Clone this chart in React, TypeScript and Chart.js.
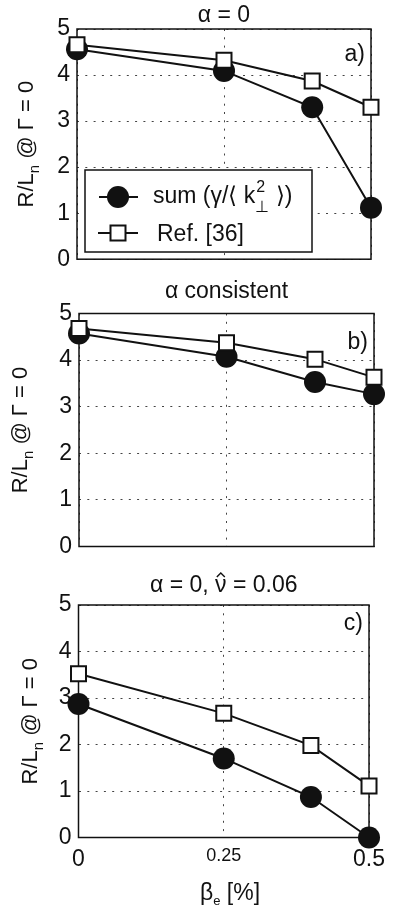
import React, { useEffect, useRef } from "react";
import { Chart, registerables } from "chart.js";
Chart.register(...registerables);

// ---- data ----
const betaValues = [0, 0.25, 0.4, 0.5];
const xTickValues = [0, 0.25, 0.5];
const yTickValues = [0, 1, 2, 3, 4, 5];
const sumA = [4.56, 4.09, 3.3, 1.12];
const refA = [4.66, 4.32, 3.87, 3.3];
const sumB = [4.57, 4.07, 3.53, 3.27];
const refB = [4.68, 4.37, 4.02, 3.63];
const sumC = [2.87, 1.7, 0.87, 0.0];
const refC = [3.52, 2.67, 1.98, 1.11];
// titles split in parts: [before, hatted char, after]
const panelTitles: string[][] = [["α = 0"], ["α consistent"], ["α = 0, ", "ν", " = 0.06"]];
const panelTags = ["a)", "b)", "c)"];
const legendLabels = ["sum", "Ref. [36]"];

const FONT = "'Liberation Sans', Arial, Helvetica, sans-serif";
const INK = "#111";
const W = 393;
const FS = 23;

type Cfg = {
  top: number;
  height: number;
  left: number;
  right: number;
  areaTop: number;
  areaBottom: number;
  sum: number[];
  ref: number[];
  title: string[];
  titleBaseline: number;
  tag: string;
  tagBaseline: number;
  yTitleX: number;
  legend: boolean;
  xTicks: boolean;
};

const panels: Cfg[] = [
  { top: 0, height: 280, left: 77, right: 371, areaTop: 29, areaBottom: 262, sum: sumA, ref: refA, title: panelTitles[0], titleBaseline: 22, tag: panelTags[0], tagBaseline: 61, yTitleX: 33, legend: true, xTicks: false },
  { top: 280, height: 290, left: 79, right: 374, areaTop: 33.5, areaBottom: 266.5, sum: sumB, ref: refB, title: panelTitles[1], titleBaseline: 18, tag: panelTags[1], tagBaseline: 69, yTitleX: 27, legend: false, xTicks: false },
  { top: 570, height: 343, left: 78.5, right: 375, areaTop: 35, areaBottom: 267.5, sum: sumC, ref: refC, title: panelTitles[2], titleBaseline: 22, tag: panelTags[2], tagBaseline: 60, yTitleX: 37, legend: false, xTicks: true },
];

type Run = { t: string; size: number; dy: number };

function drawRuns(ctx: CanvasRenderingContext2D, x: number, y: number, runs: Run[]) {
  let cx = x;
  for (const r of runs) {
    ctx.font = `${r.size}px ${FONT}`;
    ctx.fillText(r.t, cx, y + r.dy);
    cx += ctx.measureText(r.t).width;
  }
  return cx;
}
function runsWidth(ctx: CanvasRenderingContext2D, runs: Run[]) {
  let w = 0;
  for (const r of runs) {
    ctx.font = `${r.size}px ${FONT}`;
    w += ctx.measureText(r.t).width;
  }
  return w;
}

function makeDecor(cfg: Cfg) {
  return {
    id: "decor",
    beforeDatasetsDraw(chart: any) {
      const { ctx, chartArea: a } = chart;
      ctx.save();
      ctx.strokeStyle = INK;
      ctx.lineWidth = 1.5;
      ctx.strokeRect(a.left, a.top, a.right - a.left, a.bottom - a.top);
      ctx.restore();
    },
    afterDraw(chart: any) {
      const { ctx, chartArea: a } = chart;
      ctx.save();
      ctx.fillStyle = INK;
      ctx.textBaseline = "alphabetic";
      ctx.textAlign = "left";
      // title
      const tRuns: Run[] = cfg.title.map((t) => ({ t, size: FS, dy: 0 }));
      const tw0 = runsWidth(ctx, tRuns);
      let tx = (a.left + a.right) / 2 - tw0 / 2;
      ctx.font = `${FS}px ${FONT}`;
      for (let i = 0; i < cfg.title.length; i++) {
        const t = cfg.title[i];
        ctx.fillText(t, tx, cfg.titleBaseline);
        const w = ctx.measureText(t).width;
        if (i === 1) {
          // hat accent over the character
          ctx.save();
          ctx.strokeStyle = INK;
          ctx.lineWidth = 1.4;
          const cx = tx + w / 2;
          const hy = cfg.titleBaseline - 19;
          ctx.beginPath();
          ctx.moveTo(cx - 4, hy + 4);
          ctx.lineTo(cx, hy);
          ctx.lineTo(cx + 4, hy + 4);
          ctx.stroke();
          ctx.restore();
        }
        tx += w;
      }
      // tag
      ctx.textAlign = "right";
      ctx.fillText(cfg.tag, a.right - 6, cfg.tagBaseline);
      // y title
      ctx.textAlign = "left";
      const yRuns: Run[] = [
        { t: "R/L", size: 22, dy: 0 },
        { t: "n", size: 15, dy: 6 },
        { t: " @ Γ = 0", size: 22, dy: 0 },
      ];
      const tw = runsWidth(ctx, yRuns);
      ctx.save();
      ctx.translate(cfg.yTitleX, (a.top + a.bottom) / 2);
      ctx.rotate(-Math.PI / 2);
      drawRuns(ctx, -tw / 2, 0, yRuns);
      ctx.restore();

      if (cfg.legend) {
        const lx = 85, ly = 170, lw = 227, lh = 82;
        ctx.fillStyle = "#fff";
        ctx.fillRect(lx, ly, lw, lh);
        ctx.strokeStyle = INK;
        ctx.lineWidth = 1.5;
        ctx.strokeRect(lx, ly, lw, lh);
        // row 1
        ctx.lineWidth = 2;
        ctx.beginPath();
        ctx.moveTo(99, 197);
        ctx.lineTo(138, 197);
        ctx.stroke();
        ctx.fillStyle = INK;
        ctx.beginPath();
        ctx.arc(118, 197, 11, 0, Math.PI * 2);
        ctx.fill();
        // row 2
        ctx.beginPath();
        ctx.moveTo(98, 233);
        ctx.lineTo(138, 233);
        ctx.stroke();
        ctx.fillStyle = "#fff";
        ctx.fillRect(110.5, 225.5, 15, 15);
        ctx.strokeRect(110.5, 225.5, 15, 15);
        ctx.fillStyle = INK;
        // text row 1
        let x = drawRuns(ctx, 153, 203, [{ t: legendLabels[0] + " (γ/⟨ k", size: FS, dy: 0 }]);
        ctx.font = `16px ${FONT}`;
        ctx.fillText("2", x + 1, 203 - 11);
        const w2 = ctx.measureText("2").width;
        ctx.fillText("⊥", x, 203 + 9);
        const w3 = ctx.measureText("⊥").width;
        x += Math.max(w2 + 1, w3);
        drawRuns(ctx, x, 203, [{ t: " ⟩)", size: FS, dy: 0 }]);
        // text row 2
        ctx.font = `${FS}px ${FONT}`;
        ctx.fillText(legendLabels[1], 157, 241);
      }

      if (cfg.xTicks) {
        const xr: Run[] = [
          { t: "β", size: FS, dy: 0 },
          { t: "e", size: 13, dy: 5 },
          { t: " [%]", size: FS, dy: 0 },
        ];
        const xw = runsWidth(ctx, xr);
        ctx.textAlign = "left";
        drawRuns(ctx, 230 - xw / 2, 330, xr);
      }
      ctx.restore();
    },
  };
}

function Panel({ cfg }: { cfg: Cfg }) {
  const ref = useRef<HTMLCanvasElement | null>(null);
  useEffect(() => {
    const canvas = ref.current!;
    const H = cfg.height;
    const chart = new Chart(canvas, {
      type: "line",
      data: {
        datasets: [
          {
            label: legendLabels[1],
            data: betaValues.map((x, i) => ({ x, y: cfg.ref[i] })),
            borderColor: INK,
            borderWidth: 2,
            pointStyle: "rect",
            pointRadius: 10.6,
            pointBackgroundColor: "#fff",
            pointBorderColor: INK,
            pointBorderWidth: 2,
            order: 1,
            clip: false,
          } as any,
          {
            label: legendLabels[0],
            data: betaValues.map((x, i) => ({ x, y: cfg.sum[i] })),
            borderColor: INK,
            borderWidth: 2,
            pointStyle: "circle",
            pointRadius: 11,
            pointBackgroundColor: INK,
            pointBorderColor: INK,
            pointBorderWidth: 0,
            order: 2,
            clip: false,
          } as any,
        ],
      },
      options: {
        animation: false,
        responsive: false,
        maintainAspectRatio: false,
        events: [],
        layout: { padding: { top: cfg.areaTop, right: W - cfg.right, left: 0, bottom: 0 } },
        plugins: { legend: { display: false }, tooltip: { enabled: false }, title: { display: false } },
        scales: {
          x: {
            type: "linear",
            min: 0,
            max: 0.5,
            afterBuildTicks: (s: any) => {
              s.ticks = xTickValues.map((v) => ({ value: v }));
            },
            afterFit: (s: any) => {
              s.height = H - cfg.areaBottom;
            },
            grid: { color: "#444", lineWidth: 1, drawTicks: false },
            border: { display: false, dash: [2, 6.3] },
            ticks: {
              display: cfg.xTicks,
              autoSkip: false,
              maxRotation: 0,
              padding: 8,
              color: INK,
              font: (c: any) => ({ family: FONT, size: c.tick && c.tick.value === 0.25 ? 18 : FS }),
              callback: (v: any) => String(v),
            },
          },
          y: {
            type: "linear",
            min: 0,
            max: 5,
            afterBuildTicks: (s: any) => {
              s.ticks = yTickValues.map((v) => ({ value: v }));
            },
            afterFit: (s: any) => {
              s.width = cfg.left;
            },
            grid: { color: "#444", lineWidth: 1, drawTicks: false },
            border: { display: false, dash: [2, 6.3] },
            ticks: { padding: 7, color: INK, font: { family: FONT, size: FS }, callback: (v: any) => String(v) },
          },
        },
      } as any,
      plugins: [makeDecor(cfg)],
    });
    return () => chart.destroy();
  }, [cfg]);
  return (
    <canvas
      ref={ref}
      width={W}
      height={cfg.height}
      style={{ position: "absolute", left: 0, top: cfg.top, width: W, height: cfg.height }}
    />
  );
}

export default function App() {
  return (
    <div style={{ position: "absolute", left: 0, top: 0, width: W, height: 913, background: "#fff", overflow: "hidden" }}>
      {panels.map((p, i) => (
        <Panel key={i} cfg={p} />
      ))}
    </div>
  );
}
